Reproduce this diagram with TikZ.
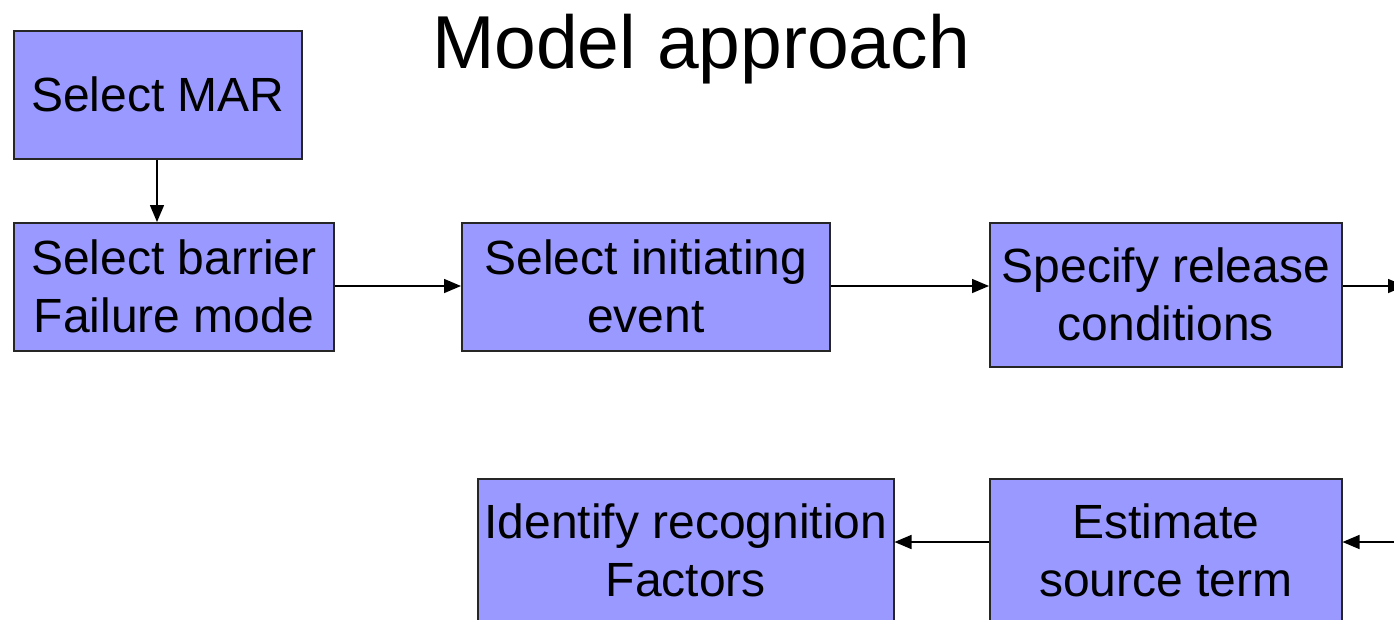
\documentclass[tikz,border=0pt]{standalone}
\usepackage{fontspec}
\setmainfont{Liberation Sans}
\usetikzlibrary{arrows.meta}
\definecolor{boxfill}{RGB}{153,153,255}
\begin{document}
\begin{tikzpicture}[x=1pt,y=-1pt,
  stepbox/.style={draw=black!85, line width=1.5pt, fill=boxfill,
    rectangle, inner sep=0pt, align=center, anchor=north west,
    font=\fontsize{48}{58}\selectfont},
  flow/.style={line width=1.5pt, -{Triangle[length=17pt,width=14pt]}}]
\useasboundingbox (0,0) rectangle (1394,619);
\clip (0,0) rectangle (1394,619);

\node[anchor=base, font=\fontsize{75}{80}\selectfont] (title) at (701,68) {Model approach};

\node[stepbox, minimum width=288pt, minimum height=128pt] (mar) at (13,30) {Select MAR};
\node[stepbox, minimum width=320pt, minimum height=128pt] (barrier) at (13,222) {Select barrier\\Failure mode};
\node[stepbox, minimum width=368pt, minimum height=128pt] (init) at (461,222) {Select initiating\\event};
\node[stepbox, minimum width=352pt, minimum height=144pt] (release) at (989,222) {Specify release\\conditions};
\node[stepbox, minimum width=416pt, minimum height=144pt] (recog) at (477,478) {Identify recognition\\Factors};
\node[stepbox, minimum width=352pt, minimum height=144pt] (source) at (989,478) {Estimate\\source term};

\coordinate (outR) at (1405,286);
\coordinate (inR) at (1400,542);

\draw[flow] (mar.south -| 157,0) -- (barrier.north -| 157,0);
\draw[flow] (barrier.east |- 0,286) -- (init.west |- 0,286);
\draw[flow] (init.east |- 0,286) -- (release.west |- 0,286);
\draw[flow] (release.east |- 0,286) -- (outR);
\draw[flow] (inR) -- (source.east |- 0,542);
\draw[flow] (source.west |- 0,542) -- (recog.east |- 0,542);
\end{tikzpicture}
\end{document}
